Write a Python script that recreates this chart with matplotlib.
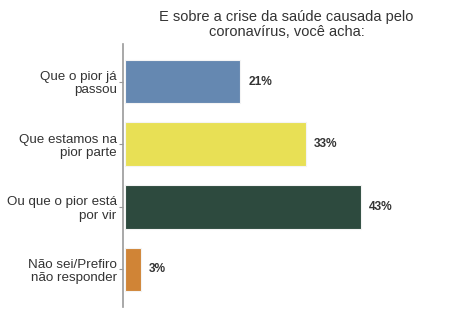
import matplotlib
matplotlib.use("Agg")
import matplotlib.pyplot as plt

# survey answers, top to bottom
categories = ["Que o pior já\npassou", "Que estamos na\npior parte",
              "Ou que o pior está\npor vir", "Não sei/Prefiro\nnão responder"]
values = [21, 33, 43, 3]
colors = ["#6588B1", "#E8E055", "#2D4A3E", "#D08436"]
title = "E sobre a crise da saúde causada pelo\ncoronavírus, você acha:"

plt.rcParams['font.family'] = ['Liberation Sans', 'DejaVu Sans']

fig = plt.figure(figsize=(4.55, 3.36), dpi=100)
ax = fig.add_axes([123 / 455, 1 - 307 / 336, 1 - 123 / 455, 263 / 336])

ypos = list(range(len(categories)))
ax.barh(ypos, values, height=0.7, color=colors, edgecolor="#f4f4f4", linewidth=0.8)

for y, v in zip(ypos, values):
    ax.text(v + 1.4, y, f"{v}%", va="center", ha="left", fontsize=8.6,
            fontweight="bold", color="#333333")

ax.set_xlim(-0.35, 60)
ax.set_ylim(3.6, -0.6)
ax.set_yticks(ypos)
ax.set_yticklabels(categories, fontsize=9.6, color="#333333", ha="right",
                   linespacing=1.15)
ax.tick_params(axis="y", length=3, width=0.8, color="#999999", pad=1.5)
ax.set_xticks([])

for s in ["top", "right", "bottom"]:
    ax.spines[s].set_visible(False)
ax.spines["left"].set_color("#999999")
ax.spines["left"].set_linewidth(1.2)

fig.text(0.63, 0.97, title, ha="center", va="top", fontsize=10.5, color="#333333",
         linespacing=1.1)

fig.savefig("out.png", dpi=100)
